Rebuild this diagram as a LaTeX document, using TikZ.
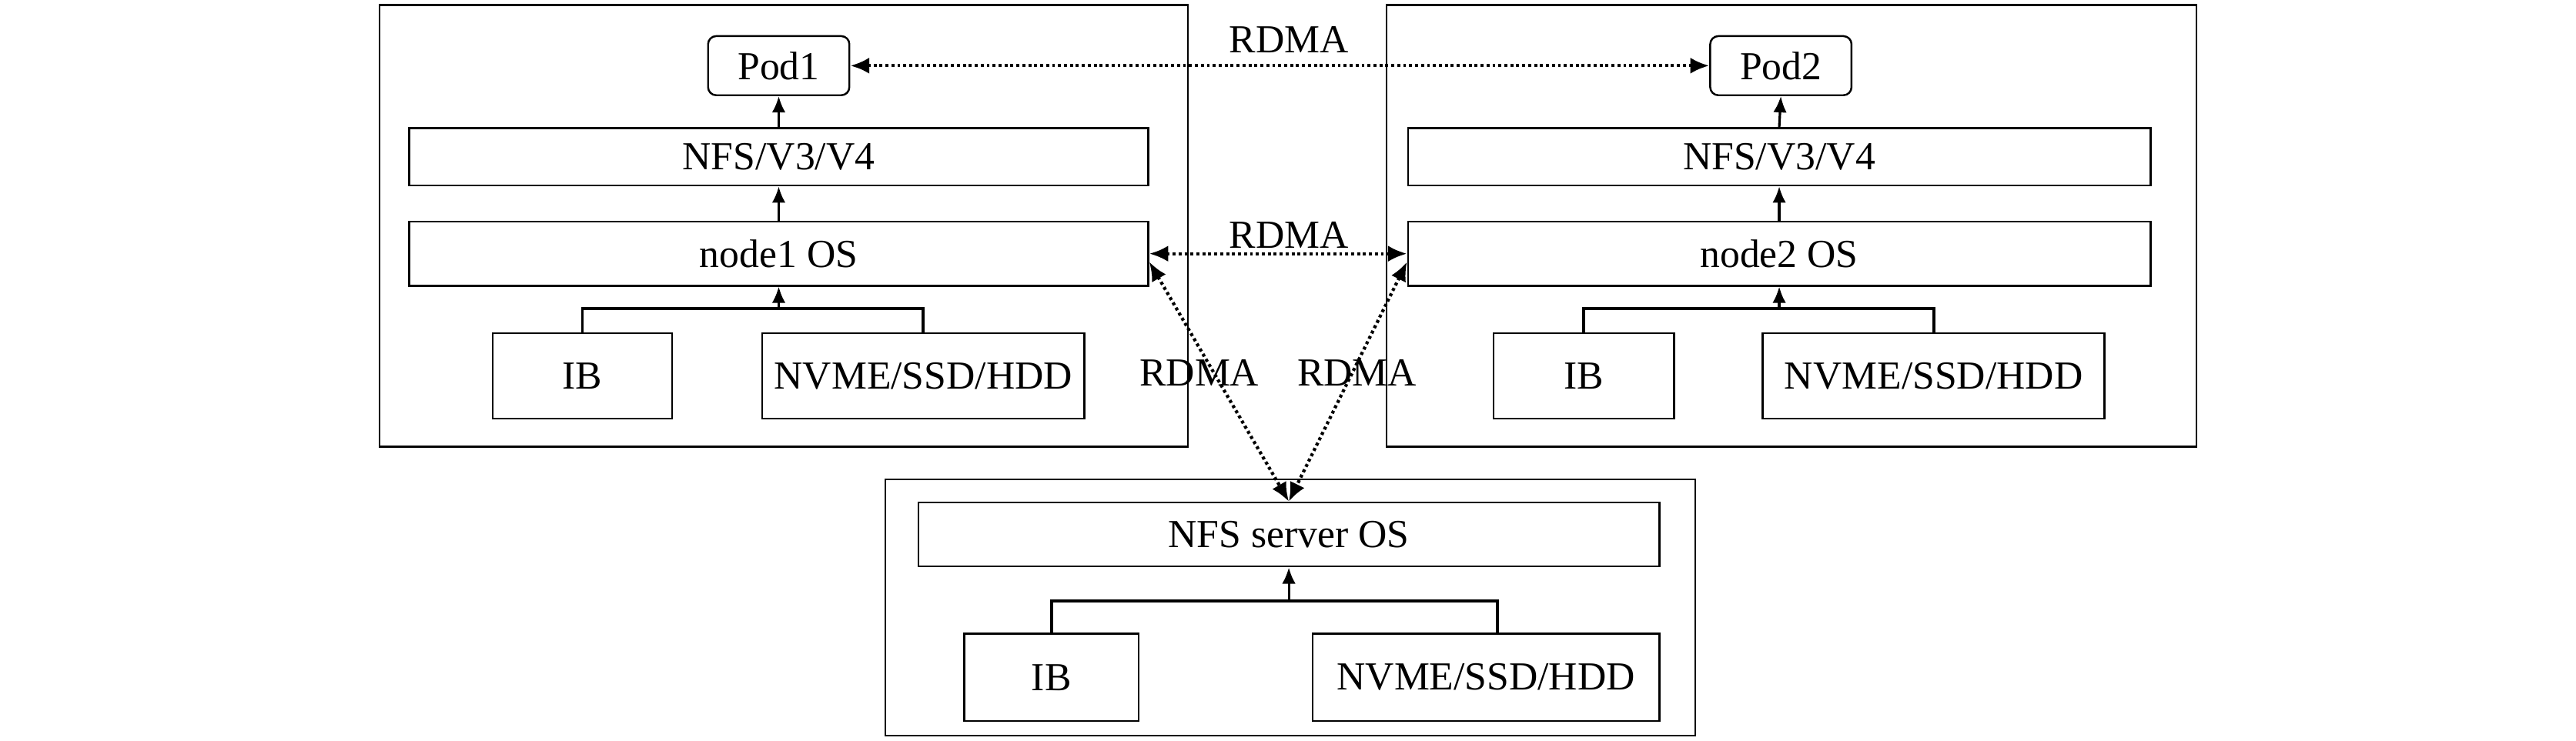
\documentclass[tikz,border=0pt]{standalone}
\usepackage{fontspec}
\setmainfont{Liberation Serif}
\usetikzlibrary{arrows.meta,calc}
\def\uu{0.02134cm}
\tikzset{
  bx/.style={draw, line width=0.7pt, inner sep=0pt, font=\fontsize{14.7}{17}\selectfont},
  outer/.style={draw, line width=0.7pt, inner sep=0pt},
  pod/.style={bx, rounded corners=3pt},
  tree/.style={line width=1.1pt},
  up/.style={line width=0.9pt, -{Latex[length=6pt,width=5pt]}},
  rd/.style={line width=1.2pt, dash pattern=on 1.1pt off 1.1pt,
     {Latex[length=7pt,width=6pt]}-{Latex[length=7pt,width=6pt]}},
  lbl/.style={inner sep=0pt, font=\fontsize{14.7}{17}\selectfont}
}
\begin{document}
\begin{tikzpicture}[x=\uu, y=-\uu]
\useasboundingbox (0,0) rectangle (1568,451);
% outer boxes
\node[outer, minimum width=492*\uu, minimum height=269*\uu] (L) at (477,137.5) {};
\node[outer, minimum width=493*\uu, minimum height=269*\uu] (R) at (1090.5,137.5) {};
\node[outer, minimum width=493*\uu, minimum height=156*\uu] (B) at (785.5,370) {};
% left node
\node[pod, minimum width=86*\uu, minimum height=36*\uu] (Pod1) at (474,40) {Pod1};
\node[bx, minimum width=450*\uu, minimum height=35*\uu] (NFS1) at (474,95.5) {NFS/V3/V4};
\node[bx, minimum width=450*\uu, minimum height=39*\uu] (OS1) at (474,154.5) {node1 OS};
\node[bx, minimum width=109*\uu, minimum height=52*\uu] (IB1) at (354.5,229) {IB};
\node[bx, minimum width=196*\uu, minimum height=52*\uu] (NV1) at (562,229) {NVME/SSD/HDD};
% right node
\node[pod, minimum width=86*\uu, minimum height=36*\uu] (Pod2) at (1084,40) {Pod2};
\node[bx, minimum width=452*\uu, minimum height=35*\uu] (NFS2) at (1083,95.5) {NFS/V3/V4};
\node[bx, minimum width=452*\uu, minimum height=39*\uu] (OS2) at (1083,154.5) {node2 OS};
\node[bx, minimum width=110*\uu, minimum height=52*\uu] (IB2) at (964,229) {IB};
\node[bx, minimum width=208*\uu, minimum height=52*\uu] (NV2) at (1177,229) {NVME/SSD/HDD};
% server
\node[bx, minimum width=451*\uu, minimum height=39*\uu] (SRV) at (784.5,325.5) {NFS server OS};
\node[bx, minimum width=106*\uu, minimum height=53*\uu] (IB3) at (640,412.5) {IB};
\node[bx, minimum width=211*\uu, minimum height=53*\uu] (NV3) at (904.5,412.5) {NVME/SSD/HDD};
% tree connectors
\coordinate (J1) at (474,188);
\coordinate (J2) at (1083,188);
\coordinate (J3) at (784.5,366);
\draw[tree] (IB1.north) |- (J1) -| (NV1.north);
\draw[tree] (IB2.north) |- (J2) -| (NV2.north);
\draw[tree] (IB3.north) |- (J3) -| ($(NV3.north)+(7,0)$);
\draw[up] (J1) -- (OS1.south);
\draw[up] (J2) -- (OS2.south);
\draw[up] (J3) -- (SRV.south);
\draw[up] (OS1.north) -- (NFS1.south);
\draw[up] (OS2.north) -- (NFS2.south);
\draw[up] (NFS1.north) -- (Pod1.south);
\draw[up] (NFS2.north) -- (Pod2.south);
% RDMA links
\draw[rd] (Pod1.east) -- (Pod2.west);
\draw[rd] (OS1.east) -- (OS2.west);
\draw[rd] ($(OS1.east)+(0,5)$) -- (SRV.north);
\draw[rd] ($(OS2.west)+(0,5)$) -- (SRV.north);
\node[lbl] (r1) at (784.5,24) {RDMA};
\node[lbl] (r2) at (784.5,143) {RDMA};
\node[lbl] (r3) at (730,227) {RDMA};
\node[lbl] (r4) at (826,227) {RDMA};
\end{tikzpicture}
\end{document}
